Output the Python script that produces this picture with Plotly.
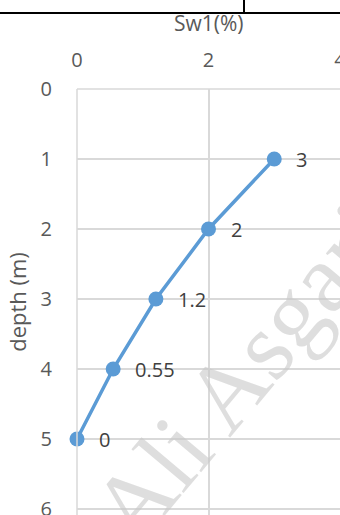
import plotly.graph_objects as go

# Data
sw1 = [3, 2, 1.2, 0.55, 0]
depth = [1, 2, 3, 4, 5]
labels = ["3", "2", "1.2", "0.55", "0"]

W, H = 340, 515
L, T = 77, 89
PW, PH = W - L, H - T

def px(x):
    return (x - L) / PW

def py(y):
    return (H - y) / PH

FONT = "Open Sans"
fig = go.Figure()

# watermark
fig.add_annotation(x=px(242), y=py(372), xref="paper", yref="paper",
                   text="Ali Asgari", showarrow=False, textangle=-50,
                   xanchor="center", yanchor="middle",
                   font=dict(family="Liberation Serif", size=98, color="rgba(200,200,200,0.6)"))

fig.add_trace(go.Scatter(
    x=sw1, y=depth, mode="lines+markers",
    line=dict(color="#5b9bd5", width=3.5),
    marker=dict(color="#5b9bd5", size=15),
    hoverinfo="skip", showlegend=False, cliponaxis=False,
))

for xv, yv, t in zip(sw1, depth, labels):
    fig.add_annotation(x=xv, y=yv, xref="x", yref="y", text=t, showarrow=False,
                       xanchor="left", yanchor="middle", xshift=20,
                       font=dict(family=FONT, size=20, color="#404040"))

# axis title at top
fig.add_annotation(x=px(209), y=py(23), xref="paper", yref="paper", text="Sw1(%)",
                   showarrow=False, xanchor="center", yanchor="middle",
                   font=dict(family=FONT, size=21, color="#595959"))

# black border lines at top
fig.add_shape(type="line", xref="paper", yref="paper", x0=px(0), x1=px(340), y0=py(13), y1=py(13),
              line=dict(color="black", width=2))
fig.add_shape(type="line", xref="paper", yref="paper", x0=px(244), x1=px(244), y0=py(0), y1=py(13),
              line=dict(color="black", width=2))

fig.update_layout(
    width=W, height=H,
    margin=dict(l=L, r=0, t=T, b=0, autoexpand=False),
    paper_bgcolor="white", plot_bgcolor="white",
    font=dict(family=FONT, size=20, color="#595959"),
    xaxis=dict(side="top", range=[0, 4], dtick=2, tick0=0, showgrid=True,
               gridcolor="#d9d9d9", gridwidth=1.5, zeroline=False, showline=False,
               ticks="", ticklabelstandoff=17, ticklabeloverflow="allow",
               tickfont=dict(family=FONT, size=20, color="#595959")),
    yaxis=dict(range=[(H - T) / 70.0, 0], dtick=1, tick0=0, showgrid=True,
               gridcolor="#d9d9d9", gridwidth=1.5, zeroline=False, showline=False,
               ticks="", ticklabelstandoff=24, ticklabeloverflow="allow",
               title=dict(text="depth (m)", standoff=7,
                          font=dict(family=FONT, size=22, color="#595959")),
               tickfont=dict(family=FONT, size=20, color="#595959")),
)
fig.add_shape(type="line", xref="paper", yref="paper", x0=0, x1=0, y0=0, y1=1,
              line=dict(color="#d9d9d9", width=1.5))
fig.add_shape(type="line", xref="paper", yref="paper", x0=0, x1=1, y0=1, y1=1,
              line=dict(color="#d9d9d9", width=1.5))

fig.write_html("out.html")
